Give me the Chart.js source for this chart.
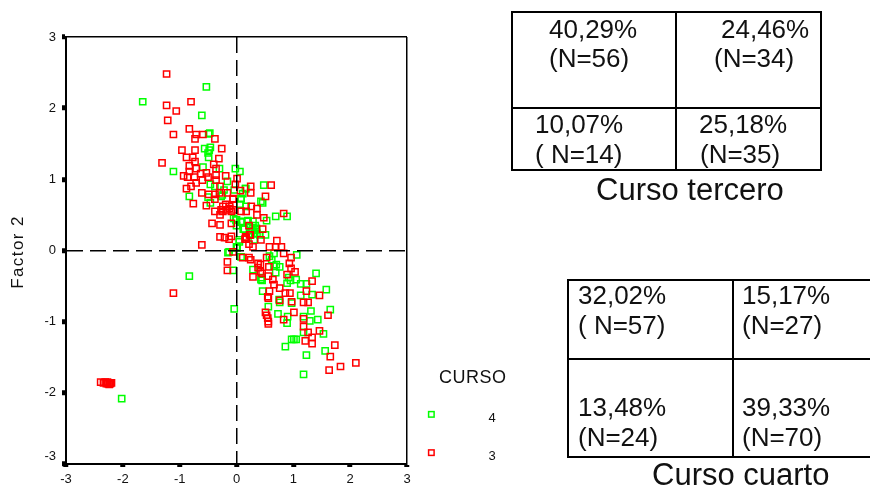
<!DOCTYPE html>
<html>
<head>
<meta charset="utf-8">
<script src="https://cdn.jsdelivr.net/npm/chart.js@4"></script>
<style>
  html, body { margin: 0; padding: 0; background: #fff; overflow: hidden; }
  #wrap { position: relative; width: 870px; height: 488px; font-family: "Liberation Sans", Arial, sans-serif; color: #111; }
  canvas { position: absolute; left: 0; top: 0; }
  .line { position: absolute; background: #000; }
  .txt { position: absolute; white-space: nowrap; font-size: 26px; line-height: 30px; }
  .cap { font-size: 31px; line-height: 34px; }
</style>
</head>
<body>
<div id="wrap">
  <canvas id="myChart" width="870" height="488"></canvas>
</div>
<script>
const curso3X = [-1.23,-1.23,-0.80,-1.06,-1.21,-0.83,-1.11,-0.71,-0.59,-0.73,-0.38,-0.26,-0.96,-0.73,-0.88,-0.77,-0.31,-0.73,-1.31,-0.83,-0.40,-0.71,-0.83,-0.36,-0.53,-0.63,-0.93,-0.86,-0.74,-0.50,-0.36,-0.19,0.01,-0.60,-0.71,-0.36,-0.02,-0.80,-0.88,-0.29,-0.61,-0.49,-0.38,-0.30,-0.16,0.07,0.25,0.25,-0.38,-0.06,-0.76,-0.53,-0.19,-0.12,-0.06,-0.27,-0.38,-0.24,-0.18,-0.09,0.26,0.17,0.08,0.36,0.36,-0.29,-0.43,-0.29,-0.09,-0.29,-0.21,-0.09,-0.13,0.17,0.15,0.24,-0.61,0.23,-0.24,-0.12,-0.06,0.61,0.51,0.48,0.83,0.22,0.46,0.16,0.17,0.43,0.71,0.58,0.69,0.79,0.22,0.29,-0.06,0.83,0.96,0.53,0.11,0.22,0.25,-0.16,-0.16,0.38,0.42,0.57,0.93,0.96,1.03,0.38,0.42,0.45,0.29,0.56,0.89,0.64,1.33,0.66,0.76,1.23,0.58,0.86,0.94,1.46,0.55,0.56,0.76,0.97,1.18,1.26,1.01,0.51,0.53,0.55,0.56,0.56,0.83,1.61,1.18,1.18,1.26,1.46,1.33,1.21,1.33,1.73,1.65,1.83,2.10,1.63,-1.11,-2.39,-2.31,-2.26,-2.22,-2.34,-2.29,-2.27,-2.24,-2.20];
const curso3Y = [2.48,2.04,2.09,1.96,1.83,1.71,1.63,1.63,1.63,1.57,1.57,1.43,1.41,1.41,1.31,1.31,1.29,1.25,1.23,1.19,1.21,1.15,1.11,1.15,1.09,1.08,1.05,1.03,1.03,1.03,1.06,1.05,1.01,0.99,0.95,0.99,0.93,0.90,0.87,0.90,0.81,0.79,0.79,0.81,0.81,0.84,0.90,0.81,0.72,0.72,0.66,0.63,0.65,0.62,0.57,0.57,0.55,0.55,0.57,0.55,0.62,0.55,0.55,0.59,0.50,0.50,0.38,0.36,0.38,0.19,0.18,0.20,0.16,0.18,0.16,0.22,0.08,0.22,0.62,0.59,0.73,0.92,0.76,0.46,0.52,0.35,0.30,0.19,0.16,0.15,0.14,0.05,0.05,0.05,0.09,0.05,-0.02,-0.04,-0.10,-0.10,-0.10,-0.10,-0.13,-0.16,-0.28,-0.18,-0.20,-0.23,-0.18,-0.25,-0.30,-0.24,-0.30,-0.32,-0.37,-0.36,-0.34,-0.41,-0.43,-0.48,-0.53,-0.57,-0.57,-0.60,-0.60,-0.63,-0.65,-0.67,-0.70,-0.72,-0.73,-0.73,-0.87,-0.87,-0.91,-0.95,-1.00,-1.03,-0.97,-0.91,-0.96,-1.07,-1.15,-1.13,-1.22,-1.27,-1.31,-1.33,-1.49,-1.63,-1.58,-1.68,-0.60,-1.85,-1.85,-1.87,-1.87,-1.86,-1.87,-1.85,-1.88,-1.86];
const curso4X = [-1.65,-0.53,-0.61,-0.49,-0.47,-0.56,-0.46,-0.50,-0.49,-0.48,-0.59,-1.11,-0.30,-0.02,0.06,-0.46,-0.16,-0.38,-0.83,-0.50,-0.46,-0.27,-0.04,0.16,0.11,0.08,0.06,0.17,0.00,0.08,0.20,0.29,0.12,0.35,0.43,0.36,0.05,0.00,-0.15,0.01,0.48,0.16,0.46,0.08,0.69,0.89,0.53,0.20,0.08,-0.01,0.14,0.29,0.35,0.32,0.51,0.41,0.05,0.01,-0.13,0.08,0.66,1.06,0.70,0.76,-0.06,0.29,0.69,1.40,0.43,0.89,1.05,1.13,1.23,0.46,1.58,1.33,1.13,0.75,0.76,0.97,0.56,-0.04,1.65,1.31,0.73,0.90,0.89,1.18,1.29,1.43,1.18,1.53,0.97,1.01,1.05,0.86,1.56,1.23,1.18,-0.83,-2.02,0.27,0.33,0.25,0.31,0.58,0.62,0.45,0.44,0.66,0.92,0.95,-0.25,-0.22,-0.05,0.00];
const curso4Y = [2.09,2.30,1.90,1.64,1.65,1.43,1.45,1.37,1.31,1.41,1.17,1.11,1.15,1.15,1.11,0.93,0.97,0.90,0.76,0.75,0.67,0.76,0.85,0.87,0.80,0.73,0.65,0.62,0.43,0.40,0.41,0.41,0.30,0.31,0.69,0.24,0.12,0.05,-0.03,0.04,0.92,0.87,0.67,0.73,0.48,0.48,0.42,0.42,0.41,0.43,0.30,0.31,0.29,0.24,0.22,0.22,0.15,0.04,-0.02,-0.09,-0.04,-0.06,-0.20,-0.23,-0.28,-0.27,-0.31,-0.32,-0.41,-0.46,-0.41,-0.47,-0.47,-0.57,-0.55,-0.62,-0.63,-0.69,-0.73,-0.74,-0.79,-0.82,-0.83,-0.85,-0.89,-0.93,-1.02,-0.93,-0.99,-0.97,-1.15,-1.17,-1.25,-1.25,-1.25,-1.35,-1.41,-1.47,-1.74,-0.36,-2.08,0.28,0.35,0.22,0.15,-0.08,-0.13,-0.42,-0.38,-0.22,-0.38,-0.42,0.78,0.85,0.45,0.35];
const axisTicks = [-3, -2, -1, 0, 1, 2, 3];
const legendTitle = 'CURSO';
const legendLabels = ['4', '3'];

const tercero = [['40,29%', '(N=56)'], ['24,46%', '(N=34)'], ['10,07%', '( N=14)'], ['25,18%', '(N=35)']];
const cuarto = [['32,02%', '( N=57)'], ['15,17%', '(N=27)'], ['13,48%', '(N=24)'], ['39,33%', '(N=70)']];

const wrap = document.getElementById('wrap');

function addLine(x, y, w, h) {
    const d = document.createElement('div');
    d.className = 'line';
    d.style.cssText = `left:${x}px;top:${y}px;width:${w}px;height:${h}px`;
    wrap.appendChild(d);
}

function addText(str, x, y, cls) {
    const d = document.createElement('div');
    d.className = cls ? 'txt ' + cls : 'txt';
    d.textContent = str;
    d.style.left = x + 'px';
    d.style.top = y + 'px';
    wrap.appendChild(d);
}

// first table
addLine(512, 11, 310, 2);
addLine(512, 169, 310, 2);
addLine(512, 107, 310, 2);
addLine(511, 11, 2, 160);
addLine(820, 11, 2, 160);
addLine(675, 11, 2, 160);
addText(tercero[0][0], 549, 14);
addText(tercero[0][1], 549, 43);
addText(tercero[1][0], 721, 14);
addText(tercero[1][1], 714, 43);
addText(tercero[2][0], 535, 109);
addText(tercero[2][1], 535, 139);
addText(tercero[3][0], 699, 109);
addText(tercero[3][1], 700, 139);
addText('Curso tercero', 596, 173, 'cap');

// second table
addLine(568, 279, 302, 2);
addLine(568, 358, 302, 2);
addLine(568, 456, 302, 2);
addLine(567, 279, 2, 179);
addLine(732, 279, 2, 179);
addText(cuarto[0][0], 578, 280);
addText(cuarto[0][1], 578, 310);
addText(cuarto[1][0], 742, 280);
addText(cuarto[1][1], 742, 310);
addText(cuarto[2][0], 578, 392);
addText(cuarto[2][1], 578, 422);
addText(cuarto[3][0], 742, 392);
addText(cuarto[3][1], 742, 422);
addText('Curso cuarto', 652, 458, 'cap');

const toPoints = (xs, ys) => xs.map((x, i) => ({ x, y: ys[i] }));

// legend and axis title sit off the normal spots, so they are drawn by hand
const cursoLegend = {
    id: 'cursoLegend',
    afterDraw(chart) {
        const ctx = chart.ctx;
        ctx.save();
        ctx.fillStyle = '#111';
        ctx.font = '18px "Liberation Sans"';
        ctx.textBaseline = 'middle';
        ctx.textAlign = 'left';
        ctx.letterSpacing = '0.5px';
        ctx.fillText(legendTitle, 439, 378);
        ctx.letterSpacing = '0px';
        ctx.font = '13px "Liberation Sans"';
        ctx.textAlign = 'center';
        ctx.fillText(legendLabels[0], 492, 418);
        ctx.fillText(legendLabels[1], 492, 456);
        ctx.lineWidth = 1.5;
        ctx.strokeStyle = '#00ff00';
        ctx.strokeRect(428.6, 411.6, 5.5, 5.5);
        ctx.strokeStyle = '#ff0000';
        ctx.strokeRect(428.6, 449.9, 5.5, 5.5);
        ctx.translate(18, 252);
        ctx.rotate(-Math.PI / 2);
        ctx.font = '17px "Liberation Sans"';
        ctx.letterSpacing = '1.4px';
        ctx.fillText('Factor 2', 0, 0);
        ctx.restore();
    }
};

const isFrame = v => v === 0 || v === 3;

const ctx = document.getElementById('myChart').getContext('2d');
new Chart(ctx, {
    type: 'scatter',
    data: {
        datasets: [
            { label: '3', data: toPoints(curso3X, curso3Y), borderColor: '#ff0000', backgroundColor: 'transparent' },
            { label: '4', data: toPoints(curso4X, curso4Y), borderColor: '#00ff00', backgroundColor: 'transparent' }
        ]
    },
    options: {
        responsive: false,
        animation: false,
        layout: { padding: { left: 0, top: 37, right: 463, bottom: 0 } },
        elements: { point: { pointStyle: 'rect', radius: 4.4, borderWidth: 1.5 } },
        plugins: { legend: { display: false }, tooltip: { enabled: false } },
        scales: {
            x: {
                type: 'linear',
                min: -3,
                max: 3,
                afterBuildTicks: s => { s.ticks = axisTicks.map(value => ({ value })); },
                afterFit: s => { s.height = 24; },
                border: { color: '#000', width: 2, z: 1, dash: c => (c.tick && c.tick.value === 0 ? [16, 7] : []) },
                grid: {
                    z: 1,
                    color: c => (isFrame(c.tick.value) ? '#000' : 'rgba(0,0,0,0)'),
                    lineWidth: 1.5,
                    tickColor: '#000',
                    tickWidth: 5,
                    tickLength: 3
                },
                ticks: { color: '#111', font: { family: 'Liberation Sans', size: 13 }, padding: 5, maxRotation: 0 }
            },
            y: {
                type: 'linear',
                min: -3,
                max: 3,
                afterBuildTicks: s => { s.ticks = axisTicks.map(value => ({ value })); },
                afterFit: s => { s.width = 66; },
                border: { color: '#000', width: 2, z: 1, dash: c => (c.tick && c.tick.value === 0 ? [16, 7] : []) },
                grid: {
                    z: 1,
                    color: c => (isFrame(c.tick.value) ? '#000' : 'rgba(0,0,0,0)'),
                    lineWidth: 1.5,
                    tickColor: '#000',
                    tickWidth: 5,
                    tickLength: 4
                },
                ticks: {
                    color: '#111',
                    font: { family: 'Liberation Sans', size: 13 },
                    padding: 6,
                    callback: v => (v === -3 ? ['-3', ''] : String(v))
                }
            }
        }
    },
    plugins: [cursoLegend]
});
</script>
</body>
</html>
